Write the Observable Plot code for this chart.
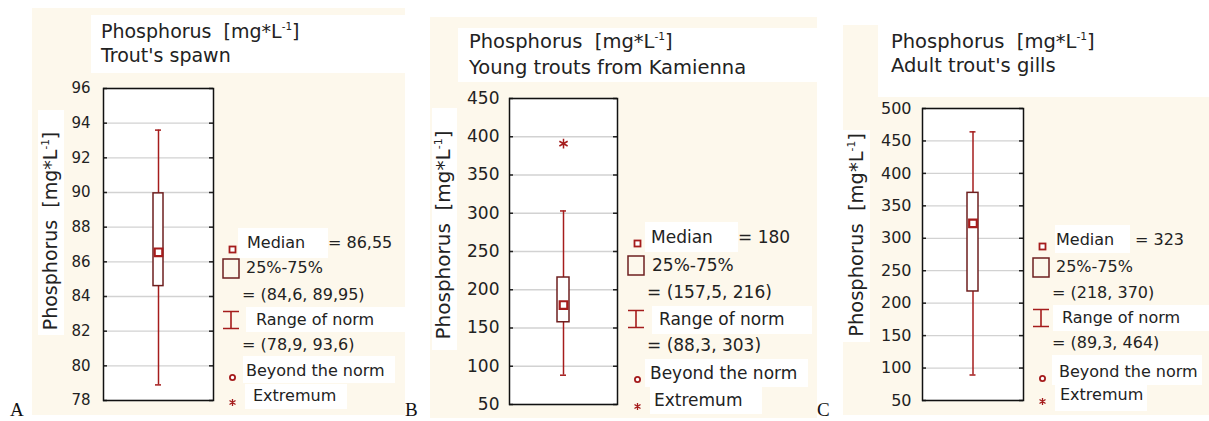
<!DOCTYPE html>
<html><head><meta charset="utf-8">
<script src="https://cdn.jsdelivr.net/npm/d3@7"></script>
<script src="https://cdn.jsdelivr.net/npm/@observablehq/plot@0.6"></script>
<style>
html,body{margin:0;padding:0}
body{width:1209px;height:421px;position:relative;background:#fff;overflow:hidden;font-family:"DejaVu Sans",sans-serif;color:#222}
.abs{position:absolute}
.cream{background:#fdf8ec}
.wb{background:#fff}
.t{position:absolute;white-space:nowrap;line-height:1;transform:translateY(-50%)}
sup{font-size:0.55em;vertical-align:0;position:relative;top:-0.75em}
.letter{position:absolute;font-family:"Liberation Serif",serif;font-size:19px;line-height:19px;height:19px;color:#111}
</style></head><body>
<script>
// ---------- data ----------
const panelLetters = ["A", "B", "C"];
const titleMain = "Phosphorus";
const titleUnit = "[mg*L<sup>-1</sup>]";
const subtitles = ["Trout's spawn", "Young trouts from Kamienna", "Adult trout's gills"];
const medians = [86.55, 180, 323];
const quart25 = [84.6, 157.5, 218];
const quart75 = [89.95, 216, 370];
const normMin = [78.9, 88.3, 89.3];
const normMax = [93.6, 303, 464];
const extremes = [[], [391], []];
const yDomains = [[78, 96], [50, 450], [50, 500]];
const yTicks = [
  [78, 80, 82, 84, 86, 88, 90, 92, 94, 96],
  [50, 100, 150, 200, 250, 300, 350, 400, 450],
  [50, 100, 150, 200, 250, 300, 350, 400, 450, 500]
];
const medianLabels = ["= 86,55", "= 180", "= 323"];
const iqrLabels = ["= (84,6, 89,95)", "= (157,5, 216)", "= (218, 370)"];
const normLabels = ["= (78,9, 93,6)", "= (88,3, 303)", "= (89,3, 464)"];
const legendNames = ["Median", "25%-75%", "Range of norm", "Beyond the norm", "Extremum"];

// ---------- layout (pixels) ----------
const RED = "#a51c1c", BROWN = "#6e1f1f";
const layout = [
  {fl:103, ft:88, fw:110, fh:312, bw:10, tf:15, tg:13,
   cream:[32,8,373,407], tbox:[91,15,314,58], tx:101, ty:[31,55], tfs:19,
   yl:[50,231], ylbox:[38,110,26,225], ylfs:19, letter:[10,400],
   leg:{mx:232, rows:[243,268,295,320,345,371,396], med:247, iqr:246, eq:242, rng:256, bey:246, ext:253, val:328, fs:16,
        medBox:[238,228,90,30], rngBox:[246,307,159,25], beyBox:[243,356,152,27], extBox:[245,384,102,25]}},
  {fl:509, ft:98, fw:108, fh:306, bw:12, tf:17, tg:10,
   cream:[430,17,387,401], tbox:[458,28,359,54], tx:469, ty:[42,68], tfs:19.5,
   yl:[443,235], ylbox:[432,108,25,242], ylfs:20, letter:[405,400],
   leg:{mx:637, rows:[237,265,292,319,345,373,400], med:651, iqr:652, eq:647, rng:659, bey:650, ext:654, val:738, fs:17,
        medBox:[645,222,93,30], rngBox:[652,306,160,28], beyBox:[645,359,163,28], extBox:[650,387,112,27]}},
  {fl:922, ft:108, fw:101, fh:292, bw:11, tf:16, tg:11,
   cream:[843,25,366,390], tbox:[878,25,331,72], tx:891, ty:[42,66], tfs:19.5,
   yl:[857,235], ylbox:[842,130,28,212], ylfs:19.5, letter:[817,400],
   leg:{mx:1042, rows:[240,267,293,318,343,372,395], med:1056, iqr:1056, eq:1052, rng:1062, bey:1059, ext:1060, val:1135, fs:16,
        medBox:[1055,225,75,28], rngBox:[1053,305,156,26], beyBox:[1052,355,150,30], extBox:[1055,385,92,26]}}
];

function box(r, cls){
  const d = document.createElement("div");
  d.className = "abs " + cls;
  Object.assign(d.style, {left:r[0]+"px", top:r[1]+"px", width:r[2]+"px", height:r[3]+"px"});
  document.body.appendChild(d);
  return d;
}
function text(x, y, html, fs, extra){
  const d = document.createElement("div");
  d.className = "t";
  d.innerHTML = html;
  Object.assign(d.style, {left:x+"px", top:y+"px", fontSize:fs+"px"}, extra||{});
  document.body.appendChild(d);
  return d;
}
function marker(cx, cy, svg, w, h){
  const d = document.createElement("div");
  d.className = "abs";
  Object.assign(d.style, {left:(cx - w/2)+"px", top:(cy - h/2)+"px", width:w+"px", height:h+"px"});
  d.innerHTML = `<svg width="${w}" height="${h}" viewBox="0 0 ${w} ${h}">${svg}</svg>`;
  document.body.appendChild(d);
}

layout.forEach((L, i) => {
  box(L.cream, "cream");
  box(L.tbox, "wb");
  box(L.ylbox, "wb");
  const lg = L.leg;
  box(lg.medBox, "wb"); box(lg.rngBox, "wb"); box(lg.beyBox, "wb"); box(lg.extBox, "wb");

  // title
  text(L.tx, L.ty[0], titleMain + "&nbsp;&nbsp;" + titleUnit, L.tfs);
  text(L.tx, L.ty[1], subtitles[i], L.tfs);

  // rotated y label
  text(L.yl[0], L.yl[1], titleMain + "&nbsp;&nbsp;" + titleUnit, L.ylfs,
    {transform:"translate(-50%,-50%) rotate(-90deg)"});

  // panel letter
  const le = document.createElement("div");
  le.className = "letter"; le.textContent = panelLetters[i];
  le.style.left = L.letter[0] + "px"; le.style.top = L.letter[1] + "px";
  document.body.appendChild(le);

  // chart
  const ml = 50, mr = 6, mt = 12, mb = 12;
  const cat = "Phosphorus";
  const rows = [{c:cat, med:medians[i], q1:quart25[i], q3:quart75[i], lo:normMin[i], hi:normMax[i]}];
  const boxInset = (L.fw - L.bw) / 2;
  const capInset = (L.fw - 6) / 2;
  const chart = Plot.plot({
    width: ml + L.fw + mr, height: mt + L.fh + mb,
    marginLeft: ml, marginRight: mr, marginTop: mt, marginBottom: mb,
    style: {background:"transparent", fontFamily:"DejaVu Sans, sans-serif", fontSize: L.tf + "px", color:"#222", overflow:"visible"},
    x: {type:"band", domain:[cat], padding:0, axis:null},
    y: {domain: yDomains[i]},
    marks: [
      Plot.frame({fill:"#fff"}),
      Plot.gridY(yTicks[i], {stroke:"#d2d2d2", strokeOpacity:1, strokeWidth:1.3}),
      Plot.tickY(yTicks[i], {y:d => d, stroke:"#222", strokeWidth:1.5, insetRight: L.fw - 4}),
      Plot.tickY(yTicks[i], {y:d => d, stroke:"#222", strokeWidth:1.5, insetLeft: L.fw - 4}),
      Plot.axisY(yTicks[i], {anchor:"left", tickSize:0, tickPadding:L.tg, label:null, fill:"#222"}),
      Plot.ruleX(rows, {x:"c", y1:"lo", y2:"hi", stroke:RED, strokeWidth:1.5}),
      Plot.tickY(rows, {x:"c", y:"lo", stroke:RED, strokeWidth:1.5, insetLeft:capInset, insetRight:capInset}),
      Plot.tickY(rows, {x:"c", y:"hi", stroke:RED, strokeWidth:1.5, insetLeft:capInset, insetRight:capInset}),
      Plot.barY(rows, {x:"c", y1:"q1", y2:"q3", fill:"#fff", stroke:BROWN, strokeWidth:1.5, insetLeft:boxInset, insetRight:boxInset}),
      Plot.dot(rows, {x:"c", y:"med", symbol:"square", r:4.3, stroke:RED, strokeWidth:2.2, fill:"#fff"}),
      Plot.dot(extremes[i], {x:() => cat, y:d => d, symbol:"asterisk", r:4.5, stroke:RED, strokeWidth:1.5}),
      Plot.frame({stroke:"#111", strokeWidth:1.5})
    ]
  });
  chart.style.position = "absolute";
  chart.style.left = (L.fl - ml) + "px";
  chart.style.top = (L.ft - mt) + "px";
  document.body.appendChild(chart);

  // legend
  const R = lg.rows;
  marker(lg.mx, R[0], `<rect x="1.5" y="1.5" width="6" height="6" fill="#fff" stroke="${RED}" stroke-width="1.8"/>`, 9, 9);
  text(lg.med, R[0], legendNames[0], lg.fs);
  text(lg.val, R[0], medianLabels[i], lg.fs);
  marker(lg.mx - 1, R[1], `<rect x="1" y="1" width="16" height="19" fill="none" stroke="${BROWN}" stroke-width="1.5"/>`, 18, 21);
  text(lg.iqr, R[1], legendNames[1], lg.fs);
  text(lg.eq, R[2], iqrLabels[i], lg.fs);
  marker(lg.mx - 1, R[3], `<path d="M1 1.5H17M9 1.5V18.5M1 18.5H17" fill="none" stroke="${RED}" stroke-width="1.6"/>`, 18, 20);
  text(lg.rng, R[3], legendNames[2], lg.fs);
  text(lg.eq, R[4], normLabels[i], lg.fs);
  marker(lg.mx, R[5], `<circle cx="4.5" cy="4.5" r="2.6" fill="#fff" stroke="${RED}" stroke-width="1.8"/>`, 9, 9);
  text(lg.bey, R[5], legendNames[3], lg.fs);
  marker(lg.mx, R[6], `<path d="M4.5 1V8M1.5 2.5L7.5 6.5M7.5 2.5L1.5 6.5" stroke="${RED}" stroke-width="1.3"/>`, 9, 9);
  text(lg.ext, R[6], legendNames[4], lg.fs);
});
</script>
</body></html>
